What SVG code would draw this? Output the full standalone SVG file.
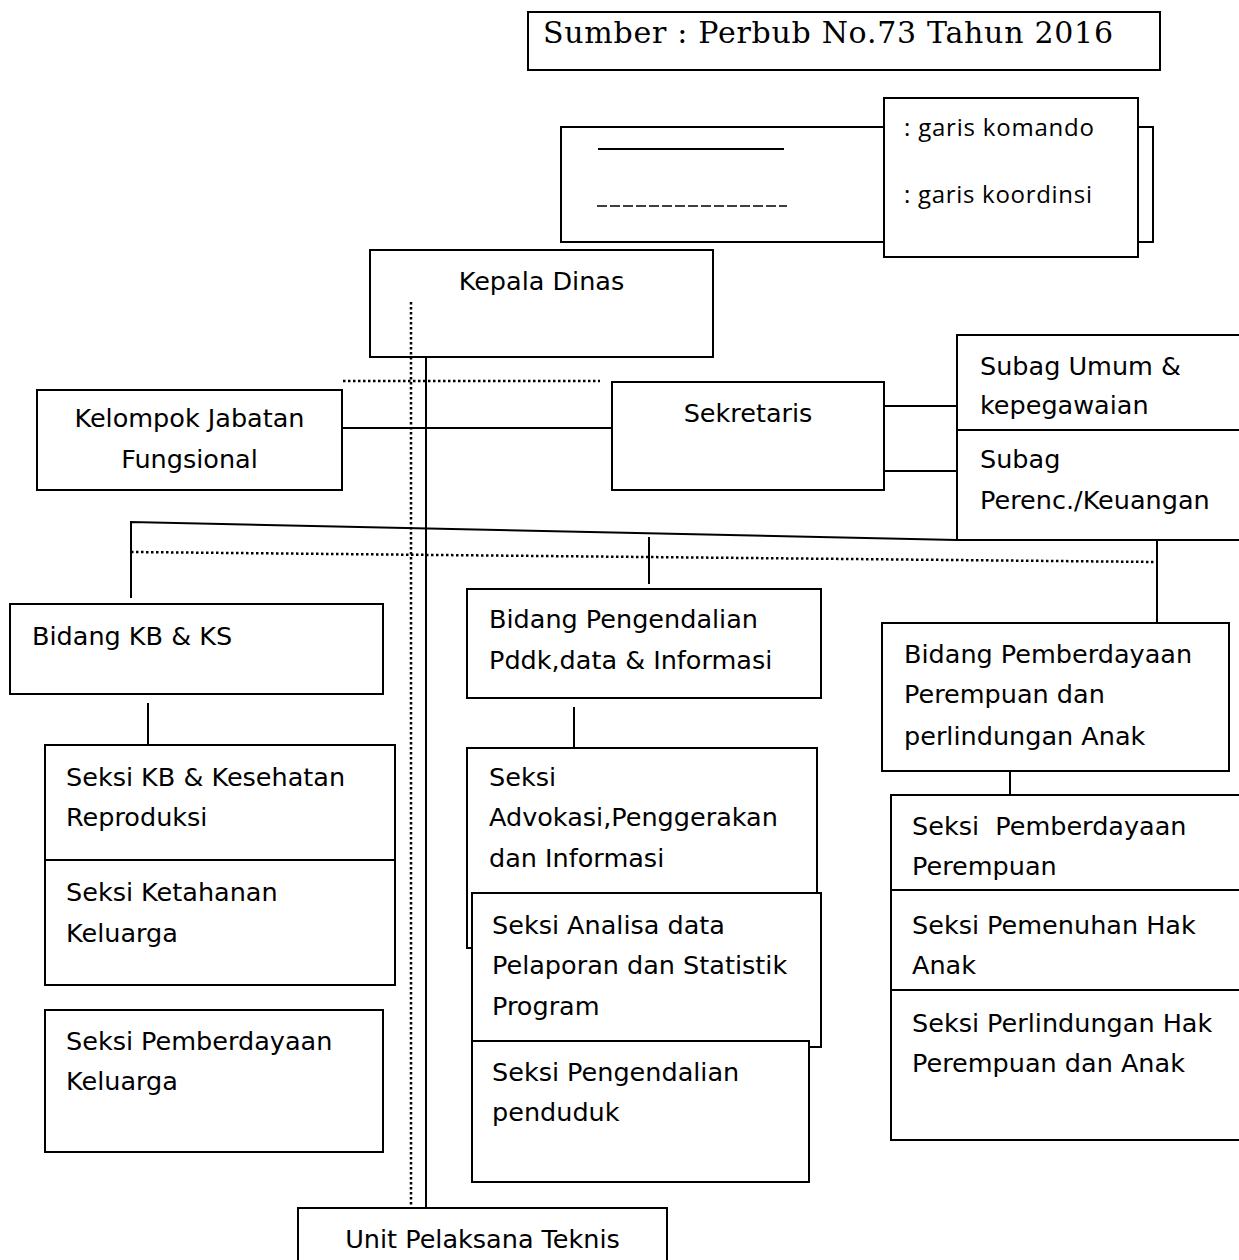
<svg xmlns="http://www.w3.org/2000/svg" width="1239" height="1260" viewBox="0 0 1239 1260">
<style>
.box{fill:#fff;stroke:#000;stroke-width:2}
.ln{stroke:#000;stroke-width:2;fill:none}
.dot{stroke:#000;stroke-width:2.5;stroke-dasharray:2.5 2.5;fill:none}
.t{font-family:"DejaVu Sans",Verdana,sans-serif;font-size:25.5px;fill:#000}
.c{text-anchor:middle}
.lg{font-family:"Open Sans","Liberation Sans",sans-serif;font-size:24px;fill:#000}
.hd{font-family:"DejaVu Serif","Liberation Serif",serif;font-size:30px;fill:#000}
</style>
<rect width="1239" height="1260" fill="#fff"/>

<g id="sumber">
<rect class="box" x="528" y="12" width="632" height="58"/>
<text class="hd" x="543" y="43" textLength="570">Sumber : Perbub No.73 Tahun 2016</text>
</g>

<g id="legend">
<rect class="box" x="561" y="127" width="592" height="115"/>
<line class="ln" x1="598" y1="149" x2="784" y2="149"/>
<line x1="597" y1="206" x2="787" y2="206" stroke="#000" stroke-width="1.5" stroke-dasharray="10 3"/>
<rect class="box" x="884" y="98" width="254" height="159"/>
<text class="lg" x="904" y="136" textLength="190">: garis komando</text>
<text class="lg" x="904" y="203" textLength="188">: garis koordinsi</text>
</g>

<g id="kepala-dinas">
<rect class="box" x="370" y="250" width="343" height="107"/>
<text class="t c" x="541.5" y="290">Kepala Dinas</text>
</g>

<g id="kelompok-jabatan">
<rect class="box" x="37" y="390" width="305" height="100"/>
<text class="t c" x="189.5" y="427">Kelompok Jabatan</text>
<text class="t c" x="189.5" y="468">Fungsional</text>
</g>

<g id="sekretaris">
<rect class="box" x="612" y="382" width="272" height="108"/>
<text class="t c" x="748" y="422">Sekretaris</text>
</g>

<g id="subag-umum">
<rect class="box" x="957" y="335" width="290" height="95"/>
<text class="t" x="980" y="375">Subag Umum &amp;</text>
<text class="t" x="980" y="414">kepegawaian</text>
</g>

<g id="subag-perenc">
<rect class="box" x="957" y="430" width="290" height="110"/>
<text class="t" x="980" y="468">Subag</text>
<text class="t" x="980" y="509">Perenc./Keuangan</text>
</g>

<g id="bidang-kb">
<rect class="box" x="10" y="604" width="373" height="90"/>
<text class="t" x="32" y="645">Bidang KB &amp; KS</text>
</g>

<g id="seksi-kb">
<rect class="box" x="45" y="745" width="350" height="115"/>
<text class="t" x="66" y="786">Seksi KB &amp; Kesehatan</text>
<text class="t" x="66" y="826">Reproduksi</text>
</g>

<g id="seksi-ketahanan">
<rect class="box" x="45" y="860" width="350" height="125"/>
<text class="t" x="66" y="901">Seksi Ketahanan</text>
<text class="t" x="66" y="942">Keluarga</text>
</g>

<g id="seksi-pemberdayaan-keluarga">
<rect class="box" x="45" y="1010" width="338" height="142"/>
<text class="t" x="66" y="1050">Seksi Pemberdayaan</text>
<text class="t" x="66" y="1090">Keluarga</text>
</g>

<g id="bidang-pengendalian">
<rect class="box" x="467" y="589" width="354" height="109"/>
<text class="t" x="489" y="628">Bidang Pengendalian</text>
<text class="t" x="489" y="669">Pddk,data &amp; Informasi</text>
</g>

<g id="seksi-advokasi">
<rect class="box" x="467" y="748" width="350" height="200"/>
<text class="t" x="489" y="786">Seksi</text>
<text class="t" x="489" y="826">Advokasi,Penggerakan</text>
<text class="t" x="489" y="867">dan Informasi</text>
</g>

<g id="seksi-analisa">
<rect class="box" x="472" y="893" width="349" height="154"/>
<text class="t" x="492" y="934">Seksi Analisa data</text>
<text class="t" x="492" y="974">Pelaporan dan Statistik</text>
<text class="t" x="492" y="1015">Program</text>
</g>

<g id="seksi-pengendalian-penduduk">
<rect class="box" x="472" y="1041" width="337" height="141"/>
<text class="t" x="492" y="1081">Seksi Pengendalian</text>
<text class="t" x="492" y="1121">penduduk</text>
</g>

<g id="bidang-pemberdayaan">
<rect class="box" x="882" y="623" width="347" height="148"/>
<text class="t" x="904" y="663">Bidang Pemberdayaan</text>
<text class="t" x="904" y="703">Perempuan dan</text>
<text class="t" x="904" y="745">perlindungan Anak</text>
</g>

<g id="seksi-pemberdayaan-perempuan">
<rect class="box" x="891" y="795" width="356" height="95"/>
<text class="t" x="912" y="835" xml:space="preserve">Seksi  Pemberdayaan</text>
<text class="t" x="912" y="875">Perempuan</text>
</g>

<g id="seksi-pemenuhan-hak">
<rect class="box" x="891" y="890" width="356" height="100"/>
<text class="t" x="912" y="934">Seksi Pemenuhan Hak</text>
<text class="t" x="912" y="974">Anak</text>
</g>

<g id="seksi-perlindungan-hak">
<rect class="box" x="891" y="990" width="356" height="150"/>
<text class="t" x="912" y="1032">Seksi Perlindungan Hak</text>
<text class="t" x="912" y="1072">Perempuan dan Anak</text>
</g>

<g id="upt">
<rect class="box" x="298" y="1208" width="369" height="70"/>
<text class="t c" x="482.5" y="1248">Unit Pelaksana Teknis</text>
</g>

<g id="connectors">
<line class="ln" x1="426" y1="357" x2="426" y2="1208"/>
<line class="dot" x1="411" y1="302" x2="411" y2="1208"/>
<line class="dot" x1="343" y1="381" x2="600" y2="381"/>
<line class="ln" x1="342" y1="428" x2="612" y2="428"/>
<line class="ln" x1="884" y1="406" x2="957" y2="406"/>
<line class="ln" x1="884" y1="471" x2="957" y2="471"/>
<polyline class="ln" points="131,598 131,522 957,540"/>
<line class="dot" x1="131" y1="552" x2="1157" y2="562"/>
<line class="ln" x1="649" y1="537" x2="649" y2="584"/>
<line class="ln" x1="1157" y1="540" x2="1157" y2="622"/>
<line class="ln" x1="148" y1="703" x2="148" y2="745"/>
<line class="ln" x1="574" y1="707" x2="574" y2="748"/>
<line class="ln" x1="1010" y1="771" x2="1010" y2="795"/>
</g>
</svg>
